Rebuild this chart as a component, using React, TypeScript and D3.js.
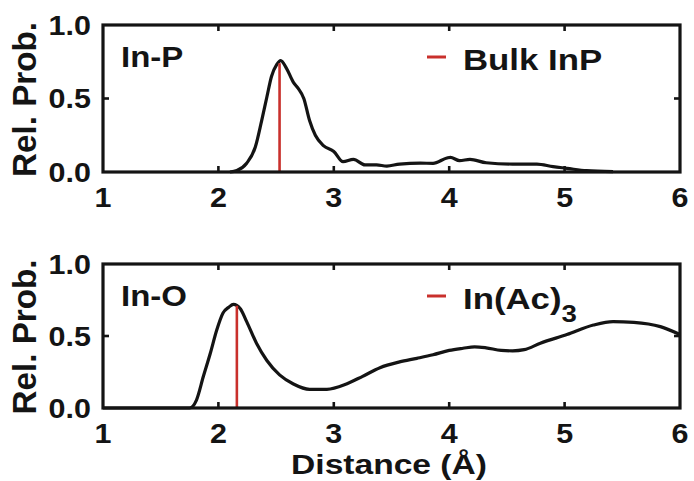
import React from "react";
import * as d3 from "d3";

const xTicks = [1, 2, 3, 4, 5, 6];
const yTicks = [0, 0.5, 1.0];
const yTickLabels = ["0.0", "0.5", "1.0"];

const inPDist = [2.1, 2.16, 2.245, 2.32, 2.375, 2.42, 2.46, 2.505, 2.54, 2.59, 2.65, 2.69, 2.74, 2.79, 2.84, 2.91, 3.0, 3.08, 3.17, 3.27, 3.37, 3.46, 3.57, 3.75, 3.86, 3.98, 4.01, 4.09, 4.18, 4.32, 4.55, 4.76, 4.9, 5.02, 5.19, 5.42];
const inPProb = [0, 0.01, 0.06, 0.17, 0.35, 0.51, 0.65, 0.73, 0.757, 0.705, 0.61, 0.57, 0.5, 0.35, 0.25, 0.18, 0.14, 0.07, 0.086, 0.048, 0.048, 0.04, 0.054, 0.06, 0.059, 0.095, 0.1, 0.077, 0.086, 0.063, 0.054, 0.054, 0.036, 0.025, 0.009, 0.003];

const inODist = [1.0, 1.75, 1.81, 1.87, 1.93, 1.985, 2.04, 2.09, 2.13, 2.19, 2.245, 2.33, 2.42, 2.53, 2.65, 2.79, 2.94, 3.11, 3.25, 3.4, 3.57, 3.72, 3.86, 4.0, 4.12, 4.22, 4.32, 4.45, 4.55, 4.65, 4.79, 5.02, 5.25, 5.42, 5.6, 5.83, 6.0];
const inOProb = [0, 0, 0.055, 0.22, 0.38, 0.54, 0.66, 0.7, 0.72, 0.69, 0.6, 0.45, 0.33, 0.23, 0.167, 0.13, 0.13, 0.167, 0.22, 0.28, 0.32, 0.345, 0.37, 0.4, 0.415, 0.425, 0.418, 0.4, 0.397, 0.405, 0.45, 0.51, 0.576, 0.6, 0.595, 0.565, 0.51];

const panelNames = ["In-P", "In-O"];
const refNames = ["Bulk InP", "In(Ac)"];
const refSub = ["", "3"];
const refDist = [2.53, 2.16];
const refProb = [0.74, 0.71];

const FONT = "'Liberation Sans', Arial, Helvetica, sans-serif";
const RED = "#c9302c";
const INK = "#141414";

function T({ x, y, size, anchor = "start", sx = 1.13, children }: any) {
  return (
    <text
      transform={`translate(${x},${y}) scale(${sx},1)`}
      textAnchor={anchor}
      fontSize={size}
      fontWeight="bold"
      fontFamily={FONT}
      fill={INK}
    >
      {children}
    </text>
  );
}

function Panel({ top, bottom, dist, prob, idx }: any) {
  const x = d3.scaleLinear().domain([1, 6]).range([103, 680]);
  const y = d3.scaleLinear().domain([0, 1]).range([bottom, top]);
  const line = d3
    .line<number>()
    .x((_, i) => x(dist[i]))
    .y((d) => y(d))
    .curve(d3.curveMonotoneX);
  const tl = 6;
  const x0 = x(1), x1 = x(6), y0 = y(0), y1 = y(1);
  return (
    <g>
      <path d={line(prob) || ""} fill="none" stroke={INK} strokeWidth={3.2} strokeLinejoin="round" />
      <line
        x1={x(refDist[idx])}
        x2={x(refDist[idx])}
        y1={y0}
        y2={y(refProb[idx])}
        stroke={RED}
        strokeWidth={2.6}
      />
      <rect x={x0} y={y1} width={x1 - x0} height={y0 - y1} fill="none" stroke={INK} strokeWidth={3.2} />
      {xTicks.slice(1, -1).map((t) => (
        <g key={"t" + t}>
          <line x1={x(t)} x2={x(t)} y1={y0} y2={y0 - tl} stroke={INK} strokeWidth={2.6} />
          <line x1={x(t)} x2={x(t)} y1={y1} y2={y1 + tl} stroke={INK} strokeWidth={2.6} />
        </g>
      ))}
      <line x1={x0} x2={x0 + tl} y1={y(0.5)} y2={y(0.5)} stroke={INK} strokeWidth={2.6} />
      <line x1={x1} x2={x1 - tl} y1={y(0.5)} y2={y(0.5)} stroke={INK} strokeWidth={2.6} />
      {xTicks.map((t) => (
        <T key={t} x={x(t)} y={y0 + 35} size={27} anchor="middle">
          {String(t)}
        </T>
      ))}
      {yTicks.map((t, i) => (
        <T key={t} x={91} y={y(t) + 9.5} size={27} anchor="end">
          {yTickLabels[i]}
        </T>
      ))}
      <text
        transform={`translate(36,${(y0 + y1) / 2 + 1}) rotate(-90) scale(1.07,1.05)`}
        textAnchor="middle"
        fontSize={31}
        fontWeight="bold"
        fontFamily={FONT}
        fill={INK}
      >
        Rel. Prob.
      </text>
      <T x={121} y={y1 + 42} size={30} sx={1.1}>
        {panelNames[idx]}
      </T>
      <line x1={427} x2={446} y1={y1 + 32} y2={y1 + 32} stroke={RED} strokeWidth={3} />
      <text
        transform={`translate(463,${y1 + 45}) scale(1.2,1)`}
        fontSize={29}
        fontWeight="bold"
        fontFamily={FONT}
        fill={INK}
      >
        {refNames[idx]}
        {refSub[idx] ? (
          <tspan fontSize={23} dy={13}>
            {refSub[idx]}
          </tspan>
        ) : null}
      </text>
    </g>
  );
}

export default function App() {
  return (
    <svg
      width={694}
      height={481}
      style={{ position: "absolute", left: 0, top: 0, background: "#fff" }}
    >
      <rect width={694} height={481} fill="#fff" />
      <Panel top={25} bottom={172} dist={inPDist} prob={inPProb} idx={0} />
      <Panel top={264} bottom={408} dist={inODist} prob={inOProb} idx={1} />
      <text
        transform={`translate(389,474) scale(1.2,1)`}
        textAnchor="middle"
        fontSize={28}
        fontWeight="bold"
        fontFamily={FONT}
        fill={INK}
      >
        Distance (Å)
      </text>
    </svg>
  );
}
